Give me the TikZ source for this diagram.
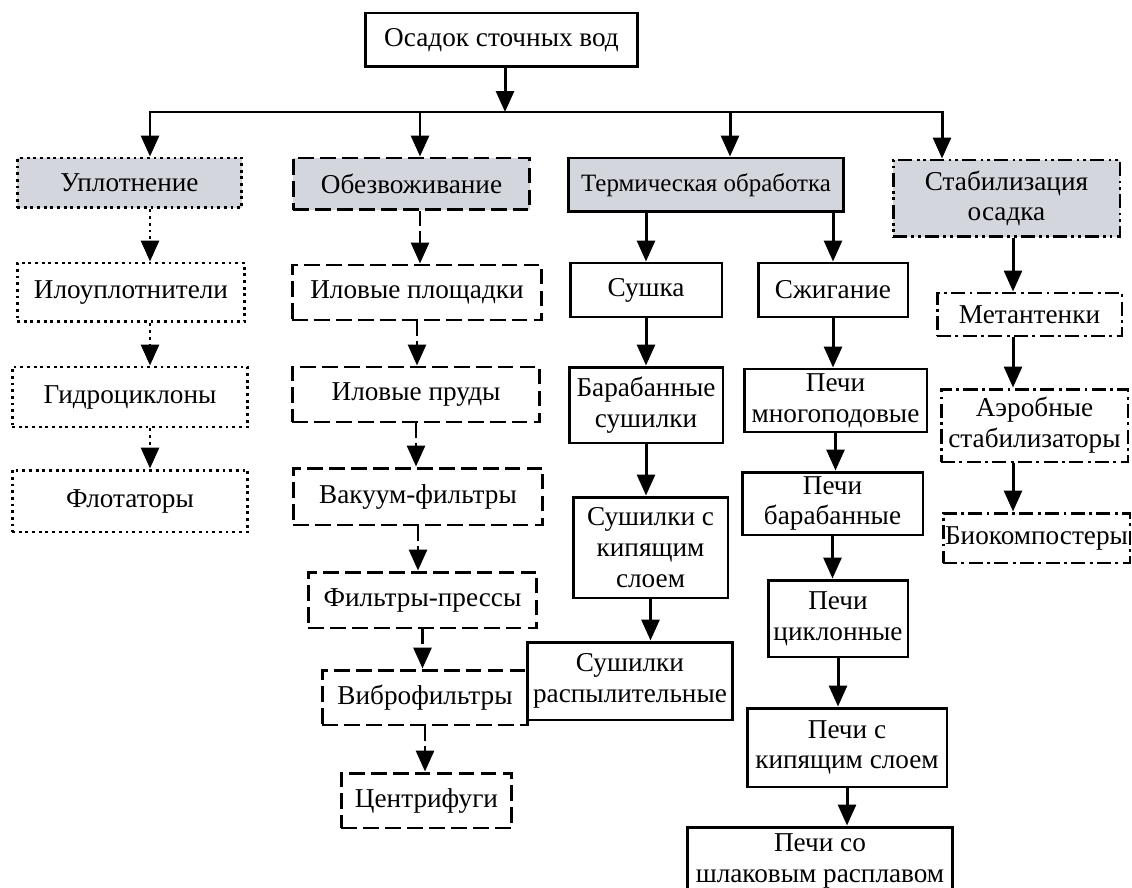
\documentclass[tikz,border=0pt]{standalone}
\usepackage{fontspec}
\setmainfont{Liberation Serif}
\usetikzlibrary{arrows.meta}
\definecolor{catgray}{RGB}{212,214,221}
\tikzset{
  box/.style={draw, line width=1.7pt, align=center, inner sep=0pt,
    font=\fontsize{15.5}{17.5}\selectfont},
  plainbox/.style={box},
  dotsbox/.style={box, dash pattern=on 1.6pt off 2.2pt},
  dashesbox/.style={box, dash pattern=on 9pt off 3.5pt},
  dashdotbox/.style={box, dash pattern=on 8pt off 2.5pt on 1.6pt off 2.5pt},
  dashdotdotbox/.style={box, dash pattern=on 8pt off 2.5pt on 1.6pt off 2pt on 1.6pt off 2.5pt},
  catbox/.style={fill=catgray},
  arr/.style={-{Triangle[length=0.42cm,width=0.36cm]}, line width=1.7pt},
  dotarr/.style={arr, dash pattern=on 1.6pt off 2.2pt},
  dasharr/.style={arr, dash pattern=on 8pt off 3pt}
}
\begin{document}
\begin{tikzpicture}[x=0.02cm, y=-0.02cm]
  \useasboundingbox (0,0) rectangle (1132,888);
  % root
  \node[plainbox, minimum width=5.46cm, minimum height=1.08cm] (root) at (501.5,40) {Осадок сточных вод};
  % main groups
  \node[dotsbox, catbox, minimum width=4.5cm, minimum height=1cm] (uplot) at (129.5,183) {Уплотнение};
  \node[dashesbox, catbox, minimum width=4.74cm, minimum height=1.04cm] (obezv) at (411.5,184) {Обезвоживание};
  \node[plainbox, catbox, minimum width=5.52cm, minimum height=1.08cm, font=\fontsize{14.2}{17}\selectfont] (term) at (706,185) {Термическая обработка};
  \node[dashdotdotbox, catbox, minimum width=4.54cm, minimum height=1.54cm] (stab) at (1006.5,198.5) {Стабилизация\\осадка};
  % thickening
  \node[dotsbox, minimum width=4.56cm, minimum height=1.18cm] (ilo) at (131,292.5) {Илоуплотнители};
  \node[dotsbox, minimum width=4.72cm, minimum height=1.2cm] (gidro) at (130,397) {Гидроциклоны};
  \node[dotsbox, minimum width=4.72cm, minimum height=1.24cm] (flot) at (130,501) {Флотаторы};
  % dewatering
  \node[dashesbox, minimum width=5cm, minimum height=1.1cm] (ilpl) at (417,292.5) {Иловые площадки};
  \node[dashesbox, minimum width=4.96cm, minimum height=1.1cm] (ilpr) at (416,394.5) {Иловые пруды};
  \node[dashesbox, minimum width=5cm, minimum height=1.14cm] (vak) at (418,496.5) {Вакуум-фильтры};
  \node[dashesbox, minimum width=4.58cm, minimum height=1.12cm] (filt) at (422.5,600) {Фильтры-прессы};
  \node[dashesbox, minimum width=4.12cm, minimum height=1.1cm] (vibro) at (425,697.5) {Виброфильтры};
  \node[dashesbox, minimum width=3.42cm, minimum height=1.1cm] (centr) at (426.5,800.5) {Центрифуги};
  % drying
  \node[plainbox, minimum width=3.04cm, minimum height=1.08cm] (sushka) at (646,290) {Сушка};
  \node[plainbox, minimum width=3.08cm, minimum height=1.52cm] (baraban) at (646,405) {Барабанные\\сушилки};
  \node[plainbox, minimum width=3.1cm, minimum height=2.02cm] (kip) at (650.5,547.5) {Сушилки с\\кипящим\\слоем};
  \node[plainbox, minimum width=4.12cm, minimum height=1.56cm] (raspyl) at (630,681) {Сушилки\\распылительные};
  % burning
  \node[plainbox, minimum width=3cm, minimum height=1.08cm] (szhig) at (833,290) {Сжигание};
  \node[plainbox, minimum width=3.66cm, minimum height=1.26cm] (mnogo) at (835.5,400.5) {Печи\\многоподовые};
  \node[plainbox, minimum width=3.62cm, minimum height=1.26cm] (pbar) at (832.5,503.5) {Печи\\барабанные};
  \node[plainbox, minimum width=2.8cm, minimum height=1.54cm] (cikl) at (838,618.5) {Печи\\циклонные};
  \node[plainbox, minimum width=4cm, minimum height=1.58cm] (pkip) at (847,747.5) {Печи с\\кипящим слоем};
  \node[plainbox, minimum width=5.32cm, minimum height=1.36cm] (shlak) at (820,861) {Печи со\\шлаковым расплавом};
  % stabilization
  \node[dashdotbox, minimum width=3.7cm, minimum height=0.86cm] (metan) at (1029.5,314.5) {Метантенки};
  \node[dashdotbox, minimum width=3.74cm, minimum height=1.46cm] (aerob) at (1034.5,425.5) {Аэробные\\стабилизаторы};
  \node[dashdotbox, minimum width=3.74cm, minimum height=1cm] (bio) at (1036.5,538) {Биокомпостеры};

  % bus
  \coordinate (bus) at (505,112);
  \coordinate (b1) at (150,112);
  \coordinate (b2) at (420,112);
  \coordinate (b3) at (730,112);
  \coordinate (b4) at (942,112);
  \coordinate (s) at (1013,250);
  \draw[arr] (root.south -| bus) -- (bus);
  \draw[line width=1.7pt, line cap=rect] (b1) -- (b4);
  \foreach \c/\n in {b1/uplot, b2/obezv, b3/term, b4/stab}
    \draw[arr] (\c) -- (\c |- \n.north);

  % thickening arrows
  \draw[dotarr] (uplot.south -| b1) -- (ilo.north -| b1);
  \draw[dotarr] (ilo.south -| b1) -- (gidro.north -| b1);
  \draw[dotarr] (gidro.south -| b1) -- (flot.north -| b1);

  % dewatering arrows
  \draw[dasharr] (obezv.south -| b2) -- (ilpl.north -| b2);
  \foreach \a/\b in {ilpl/ilpr, ilpr/vak, vak/filt, filt/vibro, vibro/centr}
    \draw[dasharr] (\a.south) -- (\a.south |- \b.north);

  % thermal arrows
  \draw[arr] (sushka.north |- term.south) -- (sushka.north);
  \draw[arr] (szhig.north |- term.south) -- (szhig.north);
  \foreach \a/\b in {sushka/baraban, baraban/kip, kip/raspyl, szhig/mnogo, mnogo/pbar, pbar/cikl, cikl/pkip, pkip/shlak}
    \draw[arr] (\a.south) -- (\a.south |- \b.north);

  % stabilization arrows
  \draw[arr] (stab.south -| s) -- (metan.north -| s);
  \draw[arr] (metan.south -| s) -- (aerob.north -| s);
  \draw[arr] (aerob.south -| s) -- (bio.north -| s);
\end{tikzpicture}
\end{document}
